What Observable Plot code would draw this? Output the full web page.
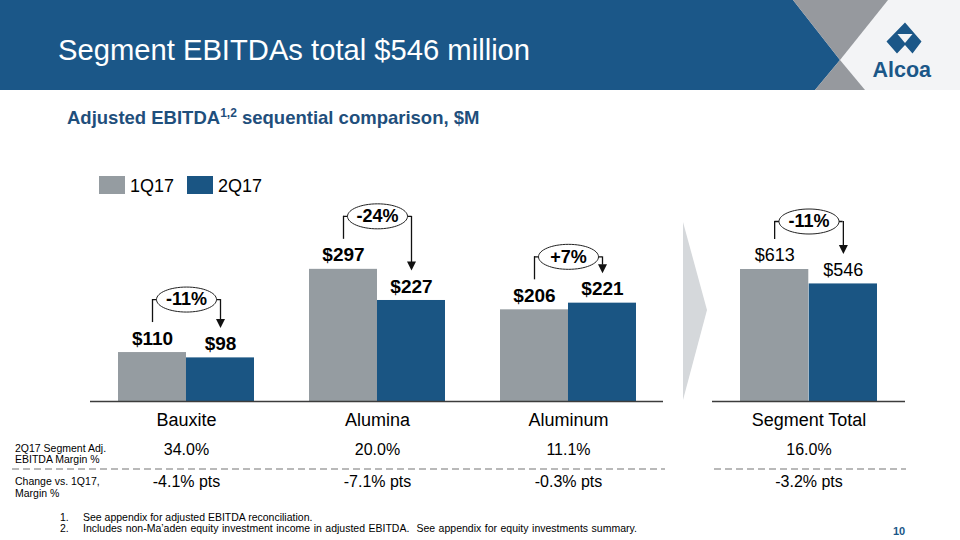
<!DOCTYPE html>
<html><head><meta charset="utf-8">
<script src="https://cdn.jsdelivr.net/npm/d3@7"></script>
<script src="https://cdn.jsdelivr.net/npm/@observablehq/plot@0.6"></script>
<style>
body{margin:0;background:#fff;font-family:"Liberation Sans",Arial,sans-serif;}
#page{position:relative;width:960px;height:540px;overflow:hidden;background:#fff;}
.t{position:absolute;white-space:pre;line-height:1;}
svg.deco{position:absolute;left:0;top:0;}
</style></head>
<body><div id="page"></div>
<script>
// ---- data ----
const series = ["1Q17", "2Q17"];
const categories = ["Bauxite", "Alumina", "Aluminum"];
const q1Values = [110, 297, 206];
const q2Values = [98, 227, 221];
const changes = ["-11%", "-24%", "+7%"];
const margins = ["34.0%", "20.0%", "11.1%"];
const marginChanges = ["-4.1% pts", "-7.1% pts", "-0.3% pts"];
const totalCategory = ["Segment Total"];
const totalQ1 = [613];
const totalQ2 = [546];
const totalChange = ["-11%"];
const totalMargin = ["16.0%"];
const totalMarginChange = ["-3.2% pts"];
const rowLabels = [["2Q17 Segment Adj.", "EBITDA Margin %"], ["Change vs. 1Q17,", "Margin %"]];
const footnotes = ["See appendix for adjusted EBITDA reconciliation.",
  "Includes non-Ma\u2019aden equity investment income in adjusted EBITDA.  See appendix for equity investments summary."];

// ---- style ----
const FONT = '"Liberation Sans", Arial, sans-serif';
const GRAY = "#959ca1", BLUE = "#1a5583", HEAD = "#1b5788", SUB = "#1f4f7c";
const page = document.getElementById("page");

function txt(s, x, cy, fs, o = {}) {
  const d = document.createElement("div");
  d.className = "t";
  d.textContent = s;
  d.style.left = x + "px";
  d.style.top = (cy - 0.49 * fs) + "px";
  d.style.fontSize = fs + "px";
  if (o.color) d.style.color = o.color;
  if (o.bold) d.style.fontWeight = "bold";
  if (o.html) d.innerHTML = o.html;
  page.appendChild(d);
  return d;
}

// header graphic
const ns = "http://www.w3.org/2000/svg";
page.insertAdjacentHTML("beforeend", `
<svg class="deco" width="960" height="92" xmlns="${ns}">
  <rect x="0" y="0" width="960" height="90" fill="#f3f4f6"/>
  <polygon points="0,0 793,0 840,60 815,90 0,90" fill="${HEAD}"/>
  <polygon points="793,0 888,0 840,60" fill="#96999e"/>
  <polygon points="840,60 815,90 865,90" fill="#96999e"/>
  <polygon points="905,22.5 921.5,41.5 912.5,53.5 905,45 897,53.5 886.5,41.5" fill="${HEAD}"/>
  <polygon points="897.5,34 912.5,34 905,43" fill="#f3f4f6"/>
</svg>`);
txt("Segment EBITDAs total $546 million", 58, 50, 29.2, {color: "#fff"});
txt("Alcoa", 872.5, 70.5, 21.5, {color: HEAD, bold: true});
txt("", 67, 116, 18.5, {color: SUB, bold: true,
  html: 'Adjusted EBITDA<sup style="font-size:12px;vertical-align:7px">1,2</sup> sequential comparison, $M'});

// ---- panels ----
const H = 380, MB = 109, MT = 4, PI = 0.288, PO = 0.144;
const ellipse = {draw(ctx) {
  const rx = 30, ry = 12.5, kx = rx * 0.5523, ky = ry * 0.5523;
  ctx.moveTo(-rx, 0);
  ctx.bezierCurveTo(-rx, -ky, -kx, -ry, 0, -ry);
  ctx.bezierCurveTo(kx, -ry, rx, -ky, rx, 0);
  ctx.bezierCurveTo(rx, ky, kx, ry, 0, ry);
  ctx.bezierCurveTo(-kx, ry, -rx, ky, -rx, 0);
  ctx.closePath();
}};
const arrowHead = {draw(ctx) { ctx.moveTo(-4.5, -9); ctx.lineTo(4.5, -9); ctx.lineTo(0, 0); ctx.closePath(); }};

function panel(o) {
  const rows = o.cats.map((c, i) => ({cat: c, q1: o.a[i], q2: o.b[i], chg: o.chg[i], mg: o.mg[i], mgc: o.mgc[i]}));
  const k = (H - MB - MT) / o.yMax;
  const up = px => px / k;
  const n = rows.length;
  const step = (o.width - o.marginLeft - o.marginRight) / (n - PI + 2 * PO);
  const bw = step * (1 - PI), half = bw / 2, q = bw / 4;
  const yLine = d => d.q1 + up(o.lineOffset);
  const svg = Plot.plot({
    width: o.width, height: H, marginLeft: o.marginLeft, marginRight: o.marginRight,
    marginTop: MT, marginBottom: MB,
    style: {fontFamily: FONT, background: "transparent", overflow: "visible", color: "#000"},
    x: {axis: null, domain: o.cats, paddingInner: PI, paddingOuter: PO},
    y: {axis: null, domain: [0, o.yMax]},
    marks: [
      Plot.barY(rows, {x: "cat", y: "q1", fill: GRAY, insetRight: half}),
      Plot.barY(rows, {x: "cat", y: "q2", fill: BLUE, insetLeft: half}),
      Plot.ruleY([0], {stroke: "#3c3c3c", strokeWidth: 1.5}),
      Plot.text(rows, {x: "cat", y: "q1", text: d => "$" + d.q1, dx: -q, dy: -14, fontSize: o.valueSize, fontWeight: o.valueWeight, fill: "#000"}),
      Plot.text(rows, {x: "cat", y: "q2", text: d => "$" + d.q2, dx: q, dy: -14, fontSize: o.valueSize, fontWeight: o.valueWeight, fill: "#000"}),
      Plot.ruleX(rows, {x: "cat", y1: d => d.q1 + up(30), y2: yLine, dx: -q, stroke: "#111", strokeWidth: 1.3}),
      Plot.tickY(rows, {x: "cat", y: yLine, insetLeft: q, insetRight: q, stroke: "#111", strokeWidth: 1.3}),
      Plot.ruleX(rows, {x: "cat", y1: yLine, y2: d => d.q2 + up(38), dx: q, stroke: "#111", strokeWidth: 1.3}),
      Plot.dot(rows, {x: "cat", y: d => d.q2 + up(30), dx: q, symbol: arrowHead, fill: "#111", stroke: "none"}),
      Plot.dot(rows, {x: "cat", y: yLine, symbol: ellipse, fill: "#fff", stroke: "#222", strokeWidth: 1}),
      Plot.text(rows, {x: "cat", y: yLine, text: "chg", fontSize: 18, fontWeight: "bold", fill: "#000"}),
      Plot.text(rows, {x: "cat", text: "cat", frameAnchor: "bottom", dy: 24, fontSize: 18, fill: "#000"}),
      Plot.text(rows, {x: "cat", text: "mg", frameAnchor: "bottom", dy: 53, fontSize: 16, fill: "#000"}),
      Plot.text(rows, {x: "cat", text: "mgc", frameAnchor: "bottom", dy: 85, fontSize: 16, fill: "#000"})
    ]
  });
  svg.style.position = "absolute";
  svg.style.left = o.left + "px";
  svg.style.top = "130px";
  page.appendChild(svg);
}

panel({cats: categories, a: q1Values, b: q2Values, chg: changes, mg: margins, mgc: marginChanges,
  yMax: 600, width: 680, left: 0, marginLeft: 90, marginRight: 17, lineOffset: 53, valueSize: 19, valueWeight: "bold"});
panel({cats: totalCategory, a: totalQ1, b: totalQ2, chg: totalChange, mg: totalMargin, mgc: totalMarginChange,
  yMax: 1240, width: 230, left: 690, marginLeft: 22, marginRight: 15, lineOffset: 48, valueSize: 18, valueWeight: "normal"});

// chevron and dashed separators
page.insertAdjacentHTML("beforeend", `
<svg class="deco" width="960" height="540" xmlns="${ns}" style="pointer-events:none">
  <polygon points="683,222 707,310 683,400" fill="#d5d8db"/>
  <line x1="12" y1="469" x2="665" y2="469" stroke="#a3a3a3" stroke-width="1.5" stroke-dasharray="7,4"/>
  <line x1="714" y1="469" x2="906" y2="469" stroke="#a3a3a3" stroke-width="1.5" stroke-dasharray="7,4"/>
</svg>`);

// legend
const legendColors = [GRAY, BLUE];
const legendX = [[99, 130], [187, 218]];
series.forEach((s, i) => {
  const sw = document.createElement("div");
  sw.style.cssText = `position:absolute;left:${legendX[i][0]}px;top:176px;width:26px;height:18px;background:${legendColors[i]}`;
  page.appendChild(sw);
  txt(s, legendX[i][1], 186, 18, {color: "#000"});
});

// row labels
const rowCenters = [[448, 459], [481, 493]];
rowLabels.forEach((lines, r) => lines.forEach((l, j) => txt(l, 15, rowCenters[r][j], 10.5, {color: "#000"})));

// footnotes
footnotes.forEach((f, i) => {
  txt((i + 1) + ".", 60, 517 + i * 11.5, 10.5, {color: "#000"});
  const d = txt(f, 83, 517 + i * 11.5, 10.5, {color: "#000"});
  if (i === 1) d.style.wordSpacing = "0.6px";
});
txt("10", 893, 531, 11, {color: HEAD, bold: true});
</script>
</body></html>
